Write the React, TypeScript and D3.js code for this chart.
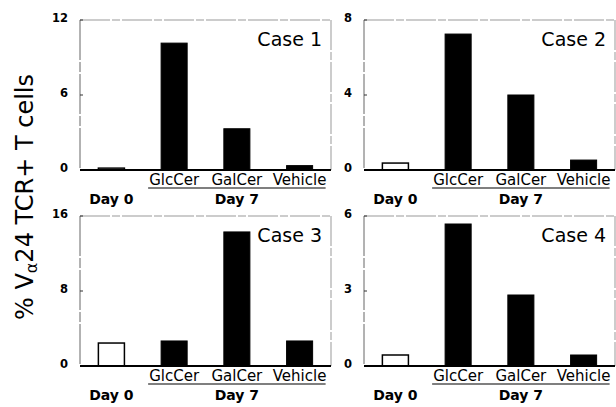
import React from 'react';
import * as d3 from 'd3';

const categories = ['Day 0', 'GlcCer', 'GalCer', 'Vehicle'];
const caseNames = ['Case 1', 'Case 2', 'Case 3', 'Case 4'];
const yMax = [12, 8, 16, 6];
const yTicks = [[0, 6, 12], [0, 4, 8], [0, 8, 16], [0, 3, 6]];
const case1 = [0.15, 10.15, 3.3, 0.35];
const case2 = [0.37, 7.25, 4.0, 0.53];
const case3 = [2.45, 2.67, 14.3, 2.67];
const case4 = [0.44, 5.68, 2.84, 0.44];
const allValues = [case1, case2, case3, case4];

const W = 616;
const H = 407;
const colLeft = [80, 364];
const rowTop = [20, 216];
const pw = 251;
const ph = 150;

const sans = 'DejaVu Sans, sans-serif';

const Panel = ({ idx }: { idx: number }) => {
  const left = colLeft[idx % 2];
  const top = rowTop[Math.floor(idx / 2)];
  const x = d3.scaleBand<string>().domain(categories).range([0, pw]).paddingInner(0.585).paddingOuter(0.293);
  const y = d3.scaleLinear().domain([0, yMax[idx]]).range([ph, 0]);
  const vals = allValues[idx];
  const x7a = x('GlcCer')! - 13;
  const x7b = x('Vehicle')! + x.bandwidth() + 13;
  return (
    <g transform={`translate(${left},${top})`}>
      <line x1={0} x2={pw} y1={0} y2={0} stroke="#999" strokeWidth={1} strokeDasharray="30,2,8,2" />
      <line x1={pw} x2={pw} y1={0} y2={ph} stroke="#999" strokeWidth={1} strokeDasharray="30,2,8,2" />
      <line x1={0} x2={0} y1={0} y2={ph} stroke="#666" strokeWidth={1} strokeDasharray="40,2,10,2" />
      {yTicks[idx].map(t => (
        <g key={t}>
          <line x1={0} x2={3} y1={y(t)} y2={y(t)} stroke="#333" />
          <text x={-12} y={y(t) - 2} dy="0.35em" textAnchor="end" fontFamily={sans} fontWeight="bold" fontSize={11.5}>{t}</text>
        </g>
      ))}
      {vals.map((v, i) => {
        const hollow = i === 0;
        const bx = x(categories[i])!;
        return (
          <rect key={i} x={bx} width={x.bandwidth()} y={y(v)} height={ph - y(v)}
            fill={hollow ? 'white' : 'black'} stroke="black" strokeWidth={hollow ? 1.5 : 1} />
        );
      })}
      <line x1={0} x2={pw} y1={ph} y2={ph} stroke="black" strokeWidth={2} />
      <text x={pw - 9} y={26} textAnchor="end" fontFamily={sans} fontSize={19}>{caseNames[idx]}</text>
      {categories.slice(1).map(c => (
        <text key={c} x={x(c)! + x.bandwidth() / 2} y={ph + 15} textAnchor="middle" fontFamily={sans} fontSize={15}>{c}</text>
      ))}
      <line x1={x7a} x2={x7b} y1={ph + 18} y2={ph + 18} stroke="black" strokeWidth={1.2} />
      <text x={x('Day 0')! + x.bandwidth() / 2} y={ph + 34} textAnchor="middle" fontFamily={sans} fontWeight="bold" fontSize={14}>Day 0</text>
      <text x={(x7a + x7b) / 2} y={ph + 34} textAnchor="middle" fontFamily={sans} fontWeight="bold" fontSize={14}>Day 7</text>
    </g>
  );
};

export default function App() {
  return (
    <svg width={W} height={H} style={{ position: 'absolute', left: 0, top: 0, background: 'white' }}>
      <rect width={W} height={H} fill="white" />
      <text transform="translate(33,197) rotate(-90)" textAnchor="middle" fontFamily={sans} fontSize={24}>
        % V<tspan fontSize={16} dy="4">α</tspan><tspan dy="-4">24 TCR+ T cells</tspan>
      </text>
      {[0, 1, 2, 3].map(i => <Panel key={i} idx={i} />)}
    </svg>
  );
}
